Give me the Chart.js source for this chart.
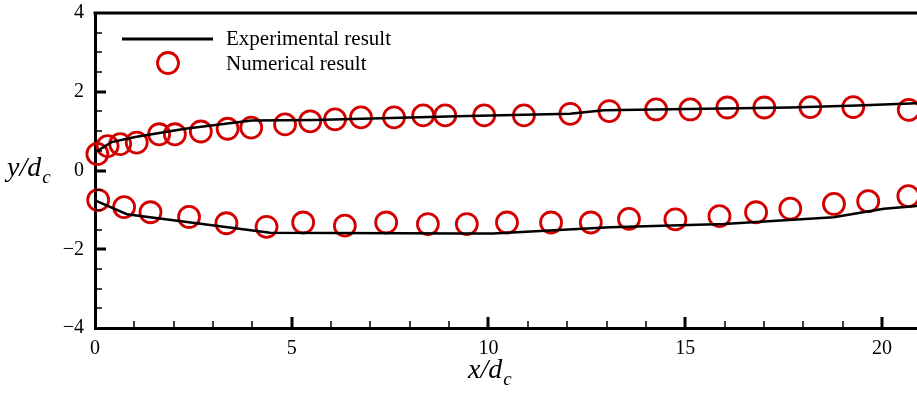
<!DOCTYPE html>
<html>
<head>
<meta charset="utf-8">
<script src="https://cdn.jsdelivr.net/npm/chart.js@4"></script>
<style>
  html, body { margin: 0; padding: 0; background: #fff; }
  #wrap { width: 917px; height: 393px; position: relative; }
</style>
</head>
<body>
<div id="wrap"><canvas id="jetChart"></canvas></div>
<script>
// -----------------------------
// DATA
// -----------------------------
// Experimental result, upper and lower boundaries
const expUpperX = [0, 0.42, 1.02, 2.29, 3.98, 5.59, 9.2, 12.07, 12.93, 17.67, 19.37, 20.89];
const expUpperY = [0.46, 0.72, 0.85, 1.06, 1.27, 1.28, 1.38, 1.44, 1.53, 1.6, 1.65, 1.71];
const expLowerX = [0, 0.81, 4.45, 9.28, 10.12, 10.72, 13.09, 15.98, 18.77, 20.05, 20.89];
const expLowerY = [-0.76, -1.11, -1.58, -1.6, -1.6, -1.57, -1.44, -1.36, -1.19, -0.97, -0.9];

// Numerical result, upper boundary
const numUpperX = [0.06, 0.32, 0.64, 1.06, 1.63, 2.03, 2.69, 3.37, 3.97, 4.83, 5.47, 6.1, 6.76, 7.6,
    8.34, 8.9, 9.89, 10.9, 12.08, 13.07, 14.26, 15.13, 16.07, 17.01, 18.18, 19.27, 20.68];
const numUpperY = [0.42, 0.62, 0.67, 0.71, 0.92, 0.92, 0.99, 1.06, 1.09, 1.17, 1.25, 1.3, 1.35, 1.35,
    1.4, 1.4, 1.4, 1.4, 1.44, 1.51, 1.55, 1.55, 1.6, 1.6, 1.61, 1.61, 1.54];

// Numerical result, lower boundary
const numLowerX = [0.08, 0.74, 1.41, 2.39, 3.34, 4.36, 5.29, 6.35, 7.4, 8.46, 9.45, 10.47, 11.59,
    12.6, 13.57, 14.75, 15.87, 16.8, 17.67, 18.78, 19.65, 20.67];
const numLowerY = [-0.75, -0.93, -1.06, -1.18, -1.34, -1.43, -1.32, -1.4, -1.32, -1.36, -1.36, -1.32,
    -1.32, -1.32, -1.23, -1.24, -1.16, -1.06, -0.97, -0.85, -0.78, -0.65];

// Axis ticks
const xMajorTicks = [0, 5, 10, 15, 20];
const yMajorTicks = [-4, -2, 0, 2, 4];

const legendLabels = ["Experimental result", "Numerical result"];

// Helper: zip x and y arrays into {x, y} points
function toPoints(xs, ys) {
    return xs.map((x, i) => ({ x: x, y: ys[i] }));
}

const SERIF = "'Liberation Serif', 'Times New Roman', serif";
const RED = "#d40000";

// -----------------------------
// PLUGIN: inward ticks + top frame line
// -----------------------------
const frameTicks = {
    id: "frameTicks",
    afterDraw(chart) {
        const ctx = chart.ctx;
        const area = chart.chartArea;
        const xs = chart.scales.x;
        const ys = chart.scales.y;
        ctx.save();
        ctx.strokeStyle = "#000";

        // top frame line
        ctx.lineWidth = 3;
        ctx.beginPath();
        ctx.moveTo(area.left - 1.5, area.top);
        ctx.lineTo(area.right, area.top);
        ctx.stroke();

        // x ticks: minor every 1, major every 5
        for (let v = 1; v <= xs.max; v++) {
            const px = Math.round(xs.getPixelForValue(v));
            const major = v % 5 === 0;
            ctx.lineWidth = major ? 3 : 1.5;
            ctx.beginPath();
            ctx.moveTo(px, area.bottom);
            ctx.lineTo(px, area.bottom - (major ? 11 : 7));
            ctx.stroke();
        }
        // y ticks: minor every 0.5, major every 2
        for (let v = -3.5; v < 4; v += 0.5) {
            const py = Math.round(ys.getPixelForValue(v));
            const major = v % 2 === 0;
            ctx.lineWidth = major ? 3 : 1.5;
            ctx.beginPath();
            ctx.moveTo(area.left, py);
            ctx.lineTo(area.left + (major ? 11 : 7), py);
            ctx.stroke();
        }
        ctx.restore();
    }
};

// -----------------------------
// PLUGIN: axis titles with subscript + legend
// -----------------------------
function drawRatio(ctx, letter, x, baseline) {
    ctx.font = "italic 28px " + SERIF;
    ctx.textBaseline = "alphabetic";
    ctx.textAlign = "left";
    const main = letter + "/d";
    ctx.fillText(main, x, baseline);
    const w = ctx.measureText(main).width;
    ctx.font = "italic 19px " + SERIF;
    ctx.fillText("c", x + w + 1, baseline + 7);
}

const annotations = {
    id: "annotations",
    afterDraw(chart) {
        const ctx = chart.ctx;
        ctx.save();
        ctx.fillStyle = "#000";

        // axis titles
        drawRatio(ctx, "y", 7, 176);
        drawRatio(ctx, "x", 468, 378);

        // legend: line sample
        ctx.strokeStyle = "#000";
        ctx.lineWidth = 3;
        ctx.beginPath();
        ctx.moveTo(122, 39);
        ctx.lineTo(213, 39);
        ctx.stroke();

        // legend: marker sample
        ctx.strokeStyle = RED;
        ctx.lineWidth = 2.8;
        ctx.beginPath();
        ctx.arc(168, 63, 10.5, 0, Math.PI * 2);
        ctx.stroke();

        ctx.font = "21px " + SERIF;
        ctx.textBaseline = "middle";
        ctx.textAlign = "left";
        ctx.fillText(legendLabels[0], 226, 39);
        ctx.fillText(legendLabels[1], 226, 64);
        ctx.restore();
    }
};

// -----------------------------
// CHART
// -----------------------------
const lineStyle = {
    showLine: true,
    borderColor: "#000",
    borderWidth: 2.5,
    pointRadius: 0,
    tension: 0,
    order: 0
};
const markerStyle = {
    showLine: false,
    clip: false,
    pointStyle: "circle",
    pointRadius: 10.5,
    pointBorderWidth: 2.8,
    pointBorderColor: RED,
    pointBackgroundColor: "rgba(0,0,0,0)",
    order: 1
};

new Chart(document.getElementById("jetChart"), {
    type: "scatter",
    data: {
        datasets: [
            Object.assign({ label: legendLabels[0], data: toPoints(expUpperX, expUpperY) }, lineStyle),
            Object.assign({ label: legendLabels[0] + " (lower)", data: toPoints(expLowerX, expLowerY) }, lineStyle),
            Object.assign({ label: legendLabels[1], data: toPoints(numUpperX, numUpperY) }, markerStyle),
            Object.assign({ label: legendLabels[1] + " (lower)", data: toPoints(numLowerX, numLowerY) }, markerStyle)
        ]
    },
    options: {
        responsive: true,
        maintainAspectRatio: false,
        animation: false,
        layout: {
            autoPadding: false,
            padding: { top: 13, right: 0, left: 0, bottom: 0 }
        },
        plugins: {
            legend: { display: false },
            tooltip: { enabled: false }
        },
        scales: {
            x: {
                type: "linear",
                min: 0,
                max: 20.89,
                afterBuildTicks: (scale) => { scale.ticks = xMajorTicks.map(v => ({ value: v })); },
                afterFit: (scale) => {
                    scale.height = 65;
                    scale.paddingLeft = 0;
                    scale.paddingRight = 0;
                },
                grid: { display: false, drawTicks: false },
                border: { display: true, color: "#000", width: 3 },
                ticks: {
                    color: "#000",
                    padding: 9,
                    font: { family: SERIF, size: 20 },
                    maxRotation: 0
                }
            },
            y: {
                type: "linear",
                min: -4,
                max: 4,
                afterBuildTicks: (scale) => { scale.ticks = yMajorTicks.map(v => ({ value: v })); },
                afterFit: (scale) => {
                    scale.width = 95;
                    scale.paddingTop = 0;
                    scale.paddingBottom = 0;
                },
                grid: { display: false, drawTicks: false },
                border: { display: true, color: "#000", width: 3 },
                ticks: {
                    color: "#000",
                    padding: 11,
                    font: { family: SERIF, size: 20 },
                    callback: (v) => v < 0 ? "\u2212" + Math.abs(v) : String(v)
                }
            }
        }
    },
    plugins: [frameTicks, annotations]
});
</script>
</body>
</html>
